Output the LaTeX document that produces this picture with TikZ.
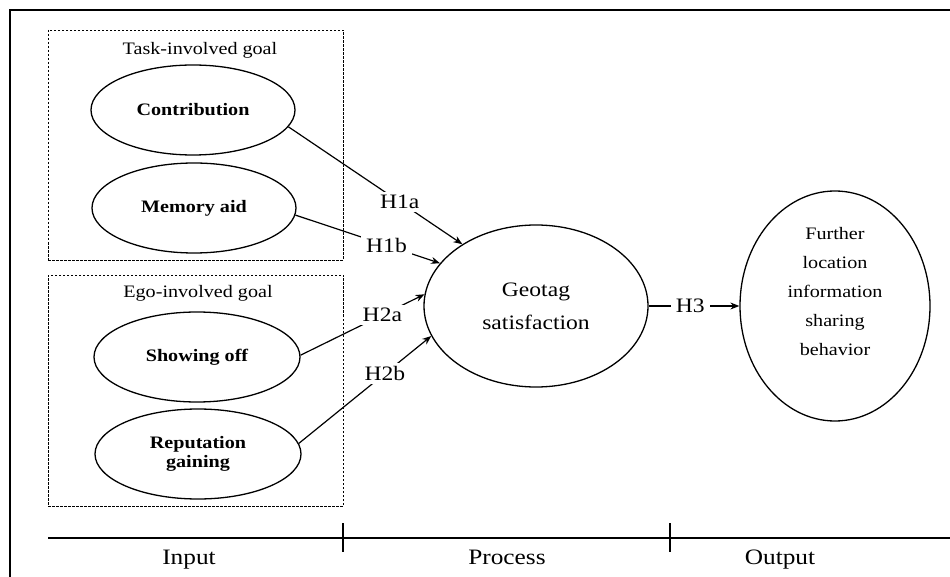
\documentclass[tikz,border=0pt]{standalone}
\usepackage{fontspec}
\setmainfont[FakeStretch=1.15]{Liberation Serif}
\usetikzlibrary{shapes.geometric,arrows.meta}
\begin{document}
\begin{tikzpicture}[x=1pt,y=-1pt,
  ell/.style={draw,ellipse,line width=1.3pt,inner sep=0pt},
  grp/.style={draw,dash pattern=on 2.5pt off 1.5pt,line width=0.9pt,inner sep=0pt},
  conn/.style={line width=1.2pt,-{Stealth[length=9pt,width=7pt]}},
  hlab/.style={fill=white,inner xsep=5pt,inner ysep=3pt,font=\fontsize{20.5}{22}\selectfont},
  lbl/.style={font=\fontsize{17.5}{19}\selectfont\bfseries,align=center},
  ttl/.style={font=\fontsize{17.5}{19}\selectfont},
  axl/.style={anchor=base,font=\fontsize{22}{24}\selectfont},
  ]
\useasboundingbox (0,0) rectangle (950,577);
\draw[line width=1.3pt] (10,577) -- (10,10) -- (950,10);

\node[grp,minimum width=295pt,minimum height=230pt] (task) at (195.5,145) {};
\node[grp,minimum width=295pt,minimum height=231pt] (ego) at (195.5,390.5) {};
\node[ttl] (tasktitle) at (200,50) {Task-involved goal};
\node[ttl] (egotitle) at (198,293) {Ego-involved goal};

\node[ell,lbl,minimum width=204pt,minimum height=90pt] (contrib) at (193,110) {Contribution};
\node[ell,lbl,minimum width=204pt,minimum height=90pt] (memory) at (194,208) {Memory aid};
\node[ell,lbl,minimum width=206pt,minimum height=90pt] (show) at (197,357) {Showing off};
\node[ell,lbl,minimum width=206pt,minimum height=90pt] (rep) at (198,454) {Reputation\\gaining};

\node[ell,align=center,font=\fontsize{20.5}{33}\selectfont,minimum width=224pt,minimum height=162pt] (geo) at (536,306) {Geotag\\satisfaction};
\node[ell,minimum width=190pt,minimum height=230pt] (fur) at (835,306) {};
\node[align=center,font=\fontsize{17.5}{29}\selectfont] (furtext) at (835,291.5) {Further\\location\\information\\sharing\\behavior};

\draw[conn] (contrib.-10) -- node[hlab,pos=0.64]{H1a} (geo.140);
\draw[conn] (memory.-4) -- node[hlab,pos=0.63]{H1b} (geo.156);
\draw[conn] (show.1) -- node[hlab,pos=0.66]{H2a} (geo.174);
\draw[conn] (rep.6) -- node[hlab,pos=0.65]{H2b} (geo.196);
\draw[conn] (geo.east) -- node[hlab,pos=0.46]{H3} (fur.west);

\coordinate (a0) at (48,538);
\coordinate (a1) at (950,538);
\coordinate (t1a) at (343,523);
\coordinate (t1b) at (343,552);
\coordinate (t2a) at (670,523);
\coordinate (t2b) at (670,552);
\draw[line width=1.3pt] (a0) -- (a1);
\draw[line width=1.1pt] (t1a) -- (t1b);
\draw[line width=1.1pt] (t2a) -- (t2b);
\node[axl] (input) at (189,564) {Input};
\node[axl] (process) at (507,564) {Process};
\node[axl] (output) at (780,564) {Output};
\end{tikzpicture}
\end{document}
